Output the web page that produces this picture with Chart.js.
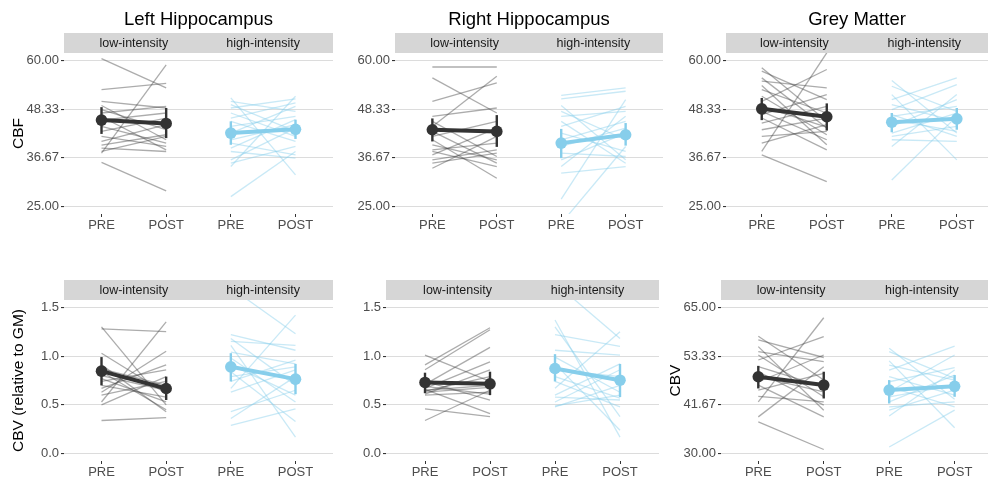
<!DOCTYPE html>
<html>
<head>
<meta charset="utf-8">
<script src="https://cdn.jsdelivr.net/npm/chart.js@4.4.1/dist/chart.umd.min.js"></script>
<style>
  body { margin: 0; background: #fff; }
  #wrap { position: relative; width: 988px; height: 477px; overflow: hidden; }
  canvas { position: absolute; }
</style>
</head>
<body>
<div id="wrap">
  <canvas id="c1"></canvas>
  <canvas id="c2"></canvas>
  <canvas id="c3"></canvas>
  <canvas id="c4"></canvas>
  <canvas id="c5"></canvas>
  <canvas id="c6"></canvas>
</div>
<script>
// ---- labels / ticks ----
const xLabels = ['PRE', 'POST', 'PRE', 'POST'];
const xTickValues = [1, 2, 3, 4];
const facetLabels = ['low-intensity', 'high-intensity'];
const cbfTicks = [25, 36.67, 48.33, 60];
const cbvRelTicks = [0, 0.5, 1.0, 1.5];
const cbvTicks = [30, 41.67, 53.33, 65];

// ---- Left Hippocampus CBF ----
const lhCbfLowPre   = [60.4, 53.0, 37.8, 35.6, 50.2, 49.2, 48.2, 47.4, 46.5, 45.7, 44.2, 43.0, 41.8, 40.6, 39.7, 39.0, 38.2];
const lhCbfLowPost  = [53.4, 54.5, 58.9, 28.8, 48.6, 41.0, 43.4, 49.0, 38.6, 47.4, 40.2, 46.2, 39.4, 44.6, 42.2, 38.2, 41.8];
const lhCbfHighPre  = [27.4, 34.6, 51.0, 50.2, 49.4, 48.6, 47.4, 46.2, 45.4, 44.2, 42.6, 41.0, 40.2, 39.0, 38.2, 36.2, 35.4];
const lhCbfHighPost = [38.2, 51.4, 32.6, 47.8, 43.0, 50.8, 41.8, 49.8, 40.6, 46.6, 49.0, 44.6, 37.4, 45.8, 36.6, 43.8, 39.4];
const lhCbfMean  = [45.7, 44.9, 42.6, 43.5];
const lhCbfErrLo = [42.4, 41.4, 39.8, 41.2];
const lhCbfErrHi = [48.8, 48.6, 45.4, 45.8];

// ---- Right Hippocampus CBF ----
const rhCbfLowPre   = [58.4, 55.8, 50.2, 44.2, 34.2, 41.0, 46.6, 45.4, 43.0, 41.8, 39.8, 38.6, 38.2, 37.4, 36.2, 35.4];
const rhCbfLowPost  = [58.4, 47.4, 54.6, 56.2, 41.8, 31.8, 48.6, 37.0, 35.4, 45.4, 36.2, 40.2, 34.6, 43.8, 38.6, 37.8];
const rhCbfHighPre  = [51.6, 50.8, 26.8, 21.0, 49.2, 47.8, 46.6, 45.4, 44.2, 42.6, 41.0, 39.4, 37.8, 36.2, 34.6, 33.0];
const rhCbfHighPost = [53.4, 52.6, 50.6, 39.4, 36.2, 41.0, 47.8, 35.4, 49.0, 38.2, 45.4, 43.8, 37.0, 42.6, 46.6, 34.6];
const rhCbfMean  = [43.4, 43.0, 40.2, 42.2];
const rhCbfErrLo = [40.6, 39.3, 36.6, 39.6];
const rhCbfErrHi = [46.1, 46.9, 43.6, 45.0];

// ---- Grey Matter CBF ----
const gmCbfLowPre   = [58.2, 57.4, 55.8, 55.0, 54.0, 53.0, 51.4, 50.2, 49.0, 47.8, 47.0, 46.2, 45.0, 43.4, 41.8, 40.2, 38.2, 37.4];
const gmCbfLowPost  = [45.4, 50.6, 43.8, 53.4, 39.8, 47.4, 42.2, 57.8, 44.0, 41.0, 51.8, 38.6, 49.0, 46.2, 43.0, 44.6, 61.8, 31.0];
const gmCbfHighPre  = [55.2, 53.8, 51.8, 50.6, 49.4, 48.2, 47.0, 46.6, 45.8, 44.2, 42.6, 41.8, 41.0, 39.4, 31.4];
const gmCbfHighPost = [42.6, 47.8, 36.2, 55.8, 45.4, 54.2, 41.8, 49.0, 43.0, 50.6, 47.4, 44.2, 40.6, 51.8, 46.6];
const gmCbfMean  = [48.4, 46.5, 45.2, 46.0];
const gmCbfErrLo = [45.7, 43.2, 42.8, 43.4];
const gmCbfErrHi = [51.0, 49.7, 47.4, 48.6];

// ---- Left Hippocampus CBV (relative to GM) ----
const lhCbvLowPre   = [1.30, 1.28, 1.03, 0.91, 0.87, 0.84, 0.80, 0.77, 0.74, 0.70, 0.67, 0.63, 0.60, 0.53, 0.50, 0.34];
const lhCbvLowPost  = [0.50, 1.25, 0.62, 0.43, 0.70, 0.45, 0.65, 0.53, 0.86, 0.58, 0.91, 1.05, 0.74, 1.35, 0.79, 0.37];
const lhCbvHighPre  = [1.70, 0.67, 1.22, 1.18, 1.15, 1.11, 1.04, 0.98, 0.91, 0.84, 0.79, 0.74, 0.63, 0.43, 0.36, 0.29];
const lhCbvHighPost = [1.23, 1.42, 1.06, 0.70, 1.11, 0.17, 0.92, 0.53, 0.60, 0.33, 0.89, 0.96, 0.86, 0.65, 0.79, 0.46];
const lhCbvMean  = [0.846, 0.668, 0.89, 0.764];
const lhCbvErrLo = [0.70, 0.55, 0.74, 0.61];
const lhCbvErrHi = [0.99, 0.79, 1.03, 0.92];

// ---- Right Hippocampus CBV (relative to GM) ----
const rhCbvLowPre   = [1.01, 0.91, 0.86, 0.74, 0.71, 0.69, 0.67, 0.66, 0.64, 0.63, 0.61, 0.60, 0.46, 0.34, 0.65];
const rhCbvLowPost  = [0.74, 1.29, 1.27, 0.55, 1.09, 0.61, 0.94, 0.41, 0.79, 0.68, 0.86, 0.63, 0.38, 0.65, 0.70];
const rhCbvHighPre  = [1.75, 1.37, 1.30, 1.22, 1.06, 0.99, 0.92, 0.86, 0.79, 0.74, 0.67, 0.60, 0.53, 0.48, 0.58, 0.49];
const rhCbvHighPost = [1.18, 0.17, 0.38, 1.10, 1.01, 0.63, 0.24, 0.79, 0.57, 0.48, 1.25, 0.92, 0.86, 0.70, 0.55, 0.60];
const rhCbvMean  = [0.73, 0.716, 0.873, 0.753];
const rhCbvErrLo = [0.62, 0.60, 0.74, 0.58];
const rhCbvErrHi = [0.83, 0.84, 1.02, 0.92];

// ---- Grey Matter CBV ----
const gmCbvLowPre   = [37.6, 42.4, 38.8, 58.1, 57.2, 55.6, 54.4, 53.6, 52.4, 50.8, 49.6, 48.4, 47.2, 46.4, 45.2, 43.7];
const gmCbvLowPost  = [31.0, 62.5, 50.8, 47.6, 53.0, 40.4, 52.0, 43.6, 58.0, 46.0, 41.6, 44.8, 53.6, 38.8, 49.2, 42.4];
const gmCbvHighPre  = [55.2, 54.4, 52.2, 51.2, 50.0, 48.4, 47.2, 46.0, 44.8, 43.6, 42.4, 41.2, 40.4, 39.0, 31.6];
const gmCbvHighPost = [43.0, 48.0, 36.2, 47.6, 55.7, 44.0, 50.6, 41.2, 53.6, 46.4, 48.8, 42.4, 45.2, 50.0, 40.4];
const gmCbvMean  = [48.4, 46.4, 45.2, 46.1];
const gmCbvErrLo = [45.6, 43.2, 42.0, 43.6];
const gmCbvErrHi = [51.0, 49.6, 47.6, 48.8];

const FONT = '"Liberation Sans", Arial, Helvetica, sans-serif';
Chart.defaults.font.family = FONT;

const lowLine = 'rgba(70,70,70,0.45)';
const highLine = 'rgba(135,206,235,0.45)';
const lowMean = '#333333';
const highMean = '#87CEEB';

// draws the grey facet strip + panel title
const facetPlugin = {
  id: 'facets',
  afterDraw(chart, args, opts) {
    const ctx = chart.ctx;
    const a = chart.chartArea;
    const x = chart.scales.x;
    ctx.save();
    ctx.fillStyle = '#d6d6d6';
    ctx.fillRect(a.left, a.top - 20, a.right - a.left, 20);
    ctx.fillStyle = '#1a1a1a';
    ctx.font = '12.5px ' + FONT;
    ctx.textAlign = 'center';
    ctx.textBaseline = 'middle';
    facetLabels.forEach((t, i) => {
      ctx.fillText(t, x.getPixelForValue(1.5 + 2 * i), a.top - 9.5);
    });
    if (opts.title) {
      ctx.fillStyle = '#000';
      ctx.font = '18.5px ' + FONT;
      ctx.fillText(opts.title, (a.left + a.right) / 2, a.top - 33);
    }
    ctx.restore();
  }
};

function subjectSets(pre, post, x0, color) {
  return pre.map((v, i) => ({
    data: [{x: x0, y: v}, {x: x0 + 1, y: post[i]}],
    borderColor: color,
    borderWidth: 1.3,
    pointRadius: 0,
    order: 2
  }));
}

function meanSets(mean, lo, hi, k, color) {
  const x0 = k + 1;
  return [
    {
      data: [{x: x0, y: mean[k]}, {x: x0 + 1, y: mean[k + 1]}],
      borderColor: color, borderWidth: 4,
      pointRadius: 5.8, pointBackgroundColor: color, pointBorderWidth: 0,
      order: 0
    },
    {
      data: [{x: x0, y: lo[k]}, {x: x0, y: hi[k]}],
      borderColor: color, borderWidth: 2.4, pointRadius: 0, order: 1
    },
    {
      data: [{x: x0 + 1, y: lo[k + 1]}, {x: x0 + 1, y: hi[k + 1]}],
      borderColor: color, borderWidth: 2.4, pointRadius: 0, order: 1
    }
  ];
}

function makePanel(p) {
  const cv = document.getElementById(p.id);
  cv.width = p.w; cv.height = p.h;
  cv.style.left = p.left + 'px';
  cv.style.top = p.top + 'px';

  const datasets = [
    ...meanSets(p.mean, p.lo, p.hi, 0, lowMean),
    ...meanSets(p.mean, p.lo, p.hi, 2, highMean),
    ...subjectSets(p.lowPre, p.lowPost, 1, lowLine),
    ...subjectSets(p.highPre, p.highPost, 3, highLine)
  ];

  new Chart(cv, {
    type: 'line',
    data: { datasets },
    plugins: [facetPlugin],
    options: {
      responsive: false,
      animation: false,
      devicePixelRatio: 1,
      events: [],
      layout: { autoPadding: false, padding: { top: 53, right: p.padRight, left: 0, bottom: 0 } },
      plugins: {
        legend: { display: false },
        tooltip: { enabled: false },
        facets: { title: p.title }
      },
      scales: {
        x: {
          type: 'linear',
          min: p.xMin, max: p.xMax,
          afterBuildTicks: s => { s.ticks = xTickValues.map(v => ({value: v})); },
          afterFit: s => { s.height = p.xH; },
          ticks: {
            callback: (v, i) => xLabels[i],
            color: '#4d4d4d', font: { size: 13 }, padding: 1,
            autoSkip: false, maxRotation: 0
          },
          grid: { display: true, drawOnChartArea: false, drawTicks: true, tickLength: 3, tickColor: '#333' },
          border: { display: false }
        },
        y: {
          min: p.yMin, max: p.yMax,
          afterBuildTicks: s => { s.ticks = p.yTicks.map(v => ({value: v})); },
          afterFit: s => { s.width = p.yW; },
          ticks: {
            callback: v => v.toFixed(p.dec),
            color: '#4d4d4d', font: { size: 13 }, padding: 2
          },
          grid: { color: '#dcdcdc', lineWidth: 1.1, drawTicks: true, tickLength: 3, tickColor: '#333' },
          border: { display: false },
          title: {
            display: !!p.yTitle, text: p.yTitle || '', color: '#000',
            font: { size: 15.5 }, padding: { top: p.titlePad || 0, bottom: 0 }
          }
        }
      }
    }
  });
}

const topRow = { top: 0, h: 235, xH: 21 };
const botRow = { top: 247, h: 230, xH: 16 };
const cbfRange = { yMin: 23.25, yMax: 61.75, yTicks: cbfTicks, dec: 2 };
const relRange = { yMin: -0.075, yMax: 1.575, yTicks: cbvRelTicks, dec: 1 };
const cbvRange = { yMin: 28.25, yMax: 66.75, yTicks: cbvTicks, dec: 2 };

makePanel({ id: 'c1', ...topRow, ...cbfRange, left: 0, w: 335, yW: 64, padRight: 2, xMin: 0.42, xMax: 4.58,
  title: 'Left Hippocampus', yTitle: 'CBF', titlePad: 9,
  lowPre: lhCbfLowPre, lowPost: lhCbfLowPost, highPre: lhCbfHighPre, highPost: lhCbfHighPost,
  mean: lhCbfMean, lo: lhCbfErrLo, hi: lhCbfErrHi });

makePanel({ id: 'c2', ...topRow, ...cbfRange, left: 335, w: 330, yW: 60, padRight: 2, xMin: 0.42, xMax: 4.58,
  title: 'Right Hippocampus',
  lowPre: rhCbfLowPre, lowPost: rhCbfLowPost, highPre: rhCbfHighPre, highPost: rhCbfHighPost,
  mean: rhCbfMean, lo: rhCbfErrLo, hi: rhCbfErrHi });

makePanel({ id: 'c3', ...topRow, ...cbfRange, left: 665, w: 323, yW: 61, padRight: 0, xMin: 0.45, xMax: 4.48,
  title: 'Grey Matter',
  lowPre: gmCbfLowPre, lowPost: gmCbfLowPost, highPre: gmCbfHighPre, highPost: gmCbfHighPost,
  mean: gmCbfMean, lo: gmCbfErrLo, hi: gmCbfErrHi });

makePanel({ id: 'c4', ...botRow, ...relRange, left: 0, w: 335, yW: 64, padRight: 2, xMin: 0.42, xMax: 4.58,
  yTitle: 'CBV (relative to GM)', titlePad: 9,
  lowPre: lhCbvLowPre, lowPost: lhCbvLowPost, highPre: lhCbvHighPre, highPost: lhCbvHighPost,
  mean: lhCbvMean, lo: lhCbvErrLo, hi: lhCbvErrHi });

makePanel({ id: 'c5', ...botRow, ...relRange, left: 335, w: 326, yW: 51, padRight: 2, xMin: 0.40, xMax: 4.60,
  lowPre: rhCbvLowPre, lowPost: rhCbvLowPost, highPre: rhCbvHighPre, highPost: rhCbvHighPost,
  mean: rhCbvMean, lo: rhCbvErrLo, hi: rhCbvErrHi });

makePanel({ id: 'c6', ...botRow, ...cbvRange, left: 665, w: 323, yW: 56, padRight: 0, xMin: 0.43, xMax: 4.51,
  yTitle: 'CBV', titlePad: 1.5,
  lowPre: gmCbvLowPre, lowPost: gmCbvLowPost, highPre: gmCbvHighPre, highPost: gmCbvHighPost,
  mean: gmCbvMean, lo: gmCbvErrLo, hi: gmCbvErrHi });
</script>
</body>
</html>
